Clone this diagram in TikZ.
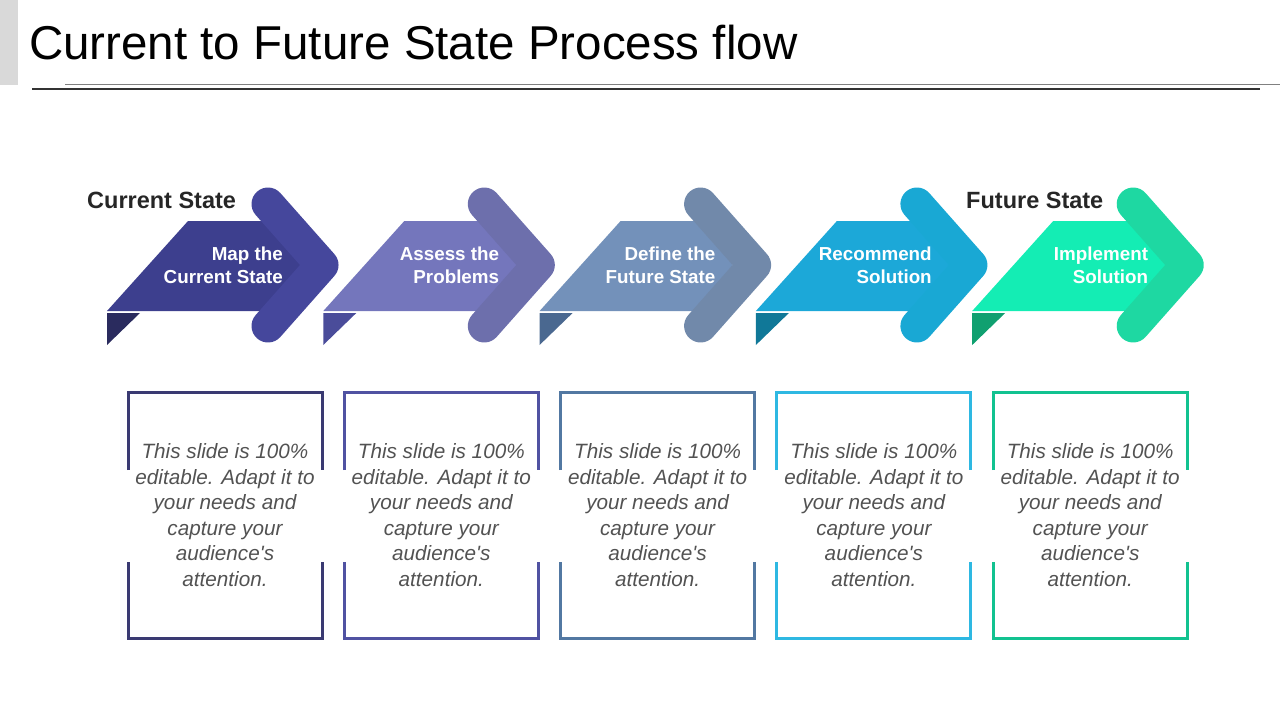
\documentclass[tikz,border=0pt]{standalone}
\usepackage{fontspec}
\setmainfont{Liberation Sans}
\begin{document}
\begin{tikzpicture}[x=1pt,y=-1pt,
  lbl/.style={font=\fontsize{18.8}{23}\selectfont\bfseries,text=white,align=right,anchor=east,inner sep=0},
  desc/.style={font=\fontsize{20.7}{25.6}\selectfont\itshape,text=black!68,align=center,inner sep=0},
  hd/.style={font=\fontsize{23.5}{27}\selectfont\bfseries,text=black!85,inner sep=0,anchor=west}]
\useasboundingbox (0,0) rectangle (1280,720);
\fill[black!15] (0,0) rectangle (18,85);
\node[anchor=west,inner sep=0,font=\fontsize{47.5}{52}\selectfont] (title) at (29,43) {Current to Future State Process flow};
\draw[black!50,line width=0.8] (65,84) -- (1280,84);
\draw[black!80,line width=1.5] (32,89) -- (1260,89);
\node[hd] (cs) at (87,200) {Current State};
\node[hd] (fs) at (966,200) {Future State};
\foreach \i/\cbody/\cchev/\cdark/\cbx/\la/\lb in {
 0/3D3F8E/45479C/2A2B5E/3A3A72/Map the/Current State,
 1/7476BC/6D6FAC/4A4C9A/5052A2/Assess the/Problems,
 2/7391BA/7189AA/4A6890/5278A2/Define the/Future State,
 3/1CA8D8/19A8D4/107898/2EB8E2/Recommend/Solution,
 4/14EDB4/1ED8A2/10A070/12C290/Implement/Solution}{
 \begin{scope}[xshift=\i*216.3]
 \definecolor{cb}{HTML}{\cbody}\definecolor{cc}{HTML}{\cchev}
 \definecolor{cd}{HTML}{\cdark}\definecolor{cx}{HTML}{\cbx}
 \fill[cd] (107,313) -- (140,313) -- (107,345) -- cycle;
 \fill[cb] (107,311) -- (188,221) -- (300,221) -- (300,311) -- cycle;
 \draw[cc,line width=33,line cap=round,line join=round] (268,204) -- (322,265) -- (268,326);
 \node[lbl] (l\i) at (283,265) {\la\\\lb};
 \draw[cx,line width=3] (128,470) -- (128,392) -- (322,392) -- (322,470);
 \draw[cx,line width=3] (128,562) -- (128,638) -- (322,638) -- (322,562);
 \node[desc] (d\i) at (225,515) {This slide is 100\%\\editable. Adapt it to\\your needs and\\capture your\\audience\textquotesingle s\\attention.};
 \end{scope}}
\end{tikzpicture}
\end{document}
